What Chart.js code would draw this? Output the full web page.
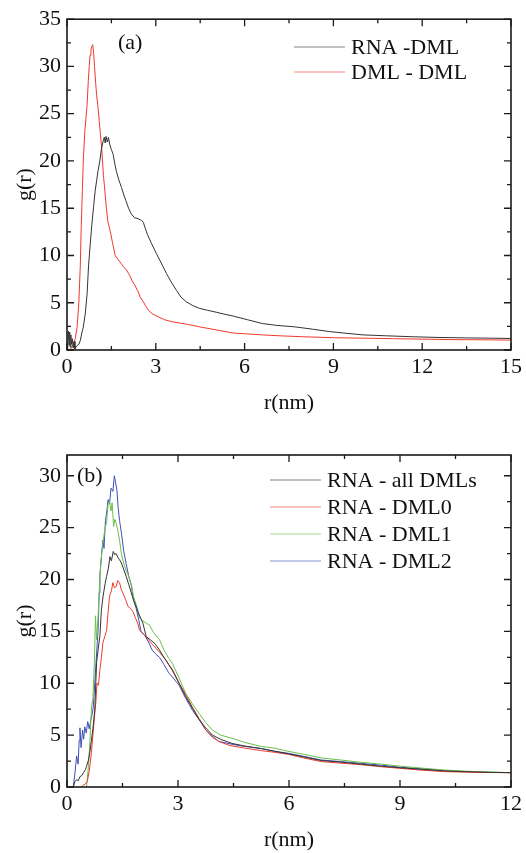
<!DOCTYPE html>
<html>
<head>
<meta charset="utf-8">
<script src="https://cdn.jsdelivr.net/npm/chart.js@4.4.1/dist/chart.umd.min.js"></script>
<style>
  html, body { margin: 0; padding: 0; background: #fff; }
  #wrap { position: relative; width: 526px; height: 853px; }
  #chartA { position: absolute; left: 0; top: 0; }
  #chartB { position: absolute; left: 0; top: 420px; }
</style>
</head>
<body>
<div id="wrap">
  <canvas id="chartA" width="526" height="420"></canvas>
  <canvas id="chartB" width="526" height="433"></canvas>
</div>
<script>
// ---- panel (a) ----
const labelsA = ['RNA -DML', 'DML - DML'];
const xTicksA = [0, 3, 6, 9, 12, 15];
const xMinorA = [1.5, 4.5, 7.5, 10.5, 13.5];
const yTicksA = [0, 5, 10, 15, 20, 25, 30, 35];
const yMinorA = [2.5, 7.5, 12.5, 17.5, 22.5, 27.5, 32.5];

const rnaDmlR = [0.02, 0.05, 0.07, 0.09, 0.11, 0.13, 0.15, 0.18, 0.21, 0.24, 0.27, 0.30, 0.35, 0.40, 0.45,
  0.50, 0.55, 0.62, 0.68, 0.73, 0.78, 0.84, 0.90, 0.95, 1.00, 1.05, 1.11, 1.16, 1.22, 1.26, 1.29, 1.32,
  1.36, 1.40, 1.44, 1.50, 1.56, 1.62, 1.67, 1.75, 1.84, 1.92, 1.99, 2.08, 2.17, 2.28, 2.40, 2.52, 2.58,
  2.63, 2.72, 2.85, 3.02, 3.20, 3.36, 3.52, 3.70, 3.85, 4.03, 4.25, 4.48, 4.75, 5.04, 5.3, 5.6, 6.1,
  6.6, 7.1, 7.7, 8.3, 8.87, 9.4, 10.0, 10.8, 11.7, 12.5, 13.5, 14.3, 15.0];
const rnaDmlG = [0, 2.0, 0.5, 1.9, 0.3, 1.6, 0.6, 1.2, 0.2, 0.9, 0.1, 0.3, 0.5, 0.6, 1.0,
  1.8, 2.4, 3.9, 6.0, 9.0, 11.0, 13.3, 15.2, 16.8, 17.9, 19.0, 20.0, 21.2, 22.1, 22.5, 21.9, 22.6,
  22.0, 22.5, 21.8, 21.2, 20.7, 19.6, 18.9, 18.0, 17.2, 16.4, 15.8, 15.0, 14.4, 14.0, 13.9, 13.7, 13.5,
  13.0, 12.2, 11.3, 10.2, 9.1, 8.1, 7.2, 6.3, 5.6, 5.1, 4.7, 4.4, 4.2, 4.0, 3.8, 3.6, 3.2,
  2.8, 2.6, 2.45, 2.2, 1.95, 1.78, 1.6, 1.5, 1.4, 1.33, 1.28, 1.25, 1.22];

const dmlDmlR = [0.10, 0.20, 0.28, 0.34, 0.40, 0.45, 0.48, 0.52, 0.55, 0.60, 0.64, 0.68, 0.72, 0.75, 0.78,
  0.81, 0.84, 0.87, 0.90, 0.93, 0.97, 1.00, 1.05, 1.09, 1.13, 1.17, 1.23, 1.28, 1.33, 1.38,
  1.46, 1.54, 1.63, 1.72, 1.82, 1.91, 2.00, 2.10, 2.19, 2.30, 2.40, 2.47, 2.56, 2.65, 2.75,
  2.90, 3.09, 3.30, 3.54, 3.80, 4.10, 4.48, 5.0, 5.6, 6.1, 6.6, 7.2, 8.0, 9.0, 10.0,
  11.0, 12.0, 13.0, 14.0, 15.0];
const dmlDmlG = [0, 0.5, 1.2, 2.4, 5, 9, 13, 17, 20, 23, 24.5, 26, 28.5, 30, 31.2,
  31.8, 32.1, 32.3, 31.4, 30, 28.2, 27, 25.6, 24.2, 22.8, 21.4, 18.5, 16.8, 15, 13.6,
  12.6, 11.3, 10, 9.6, 9.2, 8.8, 8.5, 8.0, 7.4, 6.8, 6.2, 5.6, 5.2, 4.7, 4.2,
  3.8, 3.5, 3.2, 3.0, 2.85, 2.7, 2.45, 2.15, 1.8, 1.7, 1.6, 1.5, 1.4, 1.3, 1.25,
  1.2, 1.15, 1.1, 1.08, 1.05];

// ---- panel (b) ----
const labelsB = ['RNA - all DMLs', 'RNA - DML0', 'RNA - DML1', 'RNA - DML2'];
const xTicksB = [0, 3, 6, 9, 12];
const xMinorB = [1.5, 4.5, 7.5, 10.5];
const yTicksB = [0, 5, 10, 15, 20, 25, 30];
const yMinorB = [2.5, 7.5, 12.5, 17.5, 22.5, 27.5];

const allR = [0.17, 0.21, 0.26, 0.30, 0.35, 0.40, 0.45, 0.50, 0.53, 0.58, 0.62, 0.66, 0.70, 0.75, 0.80,
  0.84, 0.89, 0.93, 0.98, 1.03, 1.07, 1.12, 1.16, 1.20, 1.25, 1.29, 1.33, 1.38, 1.42, 1.47,
  1.53, 1.60, 1.67, 1.74, 1.80, 1.87, 1.95, 2.05, 2.14, 2.25, 2.38, 2.50, 2.62, 2.75, 2.85,
  3.03, 3.21, 3.39, 3.57, 3.75, 3.93, 4.15, 4.46, 4.8, 5.26, 5.6, 5.98, 6.4, 6.87, 7.4,
  7.95, 8.5, 9.02, 9.6, 10.2, 10.8, 11.4, 12.0];
const allG = [0, 0.5, 0.7, 0.6, 1.0, 1.1, 1.4, 1.7, 2.0, 2.6, 3.4, 4.5, 5.6, 7.4, 12,
  13.2, 14.6, 17.1, 18.5, 19.6, 20.3, 21.1, 22.2, 21.8, 22.7, 22.4, 22.5, 22.1, 21.9, 21.6,
  21.0, 20.3, 19.5, 18.7, 18.0, 17.4, 16.6, 15.8, 14.5, 14.2, 13.8, 13.2, 12.5, 11.8, 11.3,
  10.0, 8.7, 7.6, 6.5, 5.7, 5.0, 4.6, 4.2, 3.95, 3.7, 3.45, 3.2, 2.9, 2.55, 2.4,
  2.2, 2.0, 1.85, 1.7, 1.55, 1.47, 1.41, 1.38];

const dml0R = [0.39, 0.45, 0.50, 0.55, 0.60, 0.66, 0.70, 0.75, 0.78, 0.81, 0.85, 0.89, 0.93, 0.97, 1.02,
  1.07, 1.11, 1.15, 1.20, 1.24, 1.28, 1.33, 1.37, 1.42, 1.47, 1.51, 1.58, 1.65, 1.72, 1.78,
  1.85, 1.91, 1.96, 2.05, 2.15, 2.32, 2.50, 2.68, 2.85, 3.03, 3.21, 3.39, 3.57, 3.75, 3.93,
  4.10, 4.4, 4.8, 5.26, 5.6, 5.98, 6.4, 6.87, 7.4, 7.95, 8.5, 9.0, 9.6, 10.2, 10.8, 11.4, 12.0];
const dml0G = [0, 0.2, 0.3, 0.6, 1.5, 3.3, 5.0, 7.1, 8.2, 10.0, 9.8, 11.3, 12.5, 13.9, 14.5,
  15.1, 16.8, 18.4, 18.9, 19.7, 19.2, 19.3, 19.9, 19.7, 19.0, 18.7, 18.1, 17.4, 17.2, 16.9,
  16.3, 15.8, 15.1, 14.8, 14.4, 13.7, 13.0, 12.2, 11.2, 10.0, 8.9, 7.7, 6.6, 5.5, 4.8,
  4.4, 4.0, 3.75, 3.5, 3.35, 3.15, 2.8, 2.45, 2.3, 2.15, 1.95, 1.8, 1.62, 1.48, 1.43, 1.40, 1.38];

const dml1R = [0.53, 0.58, 0.62, 0.66, 0.70, 0.74, 0.77, 0.80, 0.84, 0.88, 0.92, 0.97, 1.02, 1.07, 1.11,
  1.15, 1.19, 1.22, 1.26, 1.29, 1.33, 1.38, 1.42, 1.47, 1.53, 1.60, 1.67, 1.74, 1.80, 1.87,
  1.95, 2.05, 2.14, 2.23, 2.32, 2.40, 2.50, 2.62, 2.75, 2.85, 3.03, 3.21, 3.39, 3.57, 3.75,
  3.93, 4.15, 4.46, 4.8, 5.26, 5.6, 5.9, 6.4, 6.87, 7.4, 7.95, 8.5, 9.02, 9.6, 10.2,
  10.8, 11.4, 12.0];
const dml1G = [0, 2, 4.5, 7.6, 8.5, 12, 16.5, 14.2, 16.4, 19.5, 21.9, 23.5, 24.8, 25.5, 27.2,
  27.5, 26.6, 27.4, 25.1, 25.8, 25.4, 24.6, 23.8, 22.5, 21.6, 20.8, 20.3, 19.5, 18.3, 17.6,
  16.4, 16.0, 15.8, 15.6, 15.0, 14.6, 14.2, 13.2, 12.4, 11.9, 10.5, 9.0, 8.0, 7.1, 6.2,
  5.5, 5.0, 4.7, 4.3, 3.9, 3.75, 3.5, 3.15, 2.8, 2.6, 2.38, 2.2, 2.0, 1.82, 1.64,
  1.52, 1.45, 1.38];

const dml2R = [0.17, 0.22, 0.26, 0.30, 0.33, 0.35, 0.38, 0.42, 0.45, 0.48, 0.52, 0.56, 0.60, 0.64, 0.68,
  0.71, 0.75, 0.80, 0.84, 0.87, 0.89, 0.93, 0.97, 1.00, 1.04, 1.07, 1.11, 1.15, 1.19, 1.24,
  1.28, 1.31, 1.35, 1.38, 1.42, 1.47, 1.53, 1.60, 1.67, 1.74, 1.80, 1.87, 1.94,
  2.00, 2.10, 2.20, 2.30, 2.40, 2.50, 2.62, 2.75, 2.85, 3.03, 3.20, 3.39, 3.57, 3.75, 3.92,
  4.10, 4.35, 4.64, 4.95, 5.26, 5.6, 5.98, 6.4, 6.87, 7.4, 7.95, 8.5, 9.02, 9.6, 10.2,
  10.8, 11.4, 12.0];
const dml2G = [0, 1.5, 3.0, 2.2, 4.5, 5.7, 3.8, 5.5, 4.6, 5.8, 5.2, 6.3, 5.6, 6.4, 7.0,
  7.7, 10, 12.9, 15.1, 18.7, 20.5, 22.2, 23.8, 23.0, 25.7, 26.4, 27.7, 27.3, 28.8, 28.5,
  30.0, 29.4, 28.6, 27.0, 25.7, 24.5, 22.8, 21.5, 20.3, 19.4, 18.0, 17.2, 16.1,
  15.0, 14.6, 14.0, 13.2, 12.8, 12.5, 11.8, 11.0, 10.6, 9.8, 8.6, 7.4, 6.5, 5.5, 4.9,
  4.4, 4.2, 4.0, 3.85, 3.7, 3.45, 3.25, 2.95, 2.6, 2.45, 2.28, 2.1, 1.9, 1.75, 1.57,
  1.48, 1.42, 1.38];

const SERIF = '"Liberation Serif", "DejaVu Serif", serif';
const INK = '#111';

function pts(xs, ys) {
  return xs.map((x, i) => ({ x: x, y: ys[i] }));
}

function series(label, xs, ys, color) {
  return {
    label: label,
    data: pts(xs, ys),
    borderColor: color,
    borderWidth: 1,
    pointRadius: 0,
    tension: 0,
    fill: false
  };
}

// box around the plot with inward ticks on all four sides
const framePlugin = {
  id: 'frame',
  afterDraw(chart, args, opts) {
    const { ctx, chartArea: a, scales: { x, y } } = chart;
    ctx.save();
    ctx.strokeStyle = '#1a1a1a';
    ctx.lineWidth = 1.6;
    ctx.strokeRect(a.left, a.top, a.right - a.left, a.bottom - a.top);
    ctx.lineWidth = 1.3;
    ctx.beginPath();
    const xt = (vals, len) => vals.forEach(v => {
      const px = x.getPixelForValue(v);
      ctx.moveTo(px, a.bottom); ctx.lineTo(px, a.bottom - len);
      ctx.moveTo(px, a.top); ctx.lineTo(px, a.top + len);
    });
    const yt = (vals, len) => vals.forEach(v => {
      const py = y.getPixelForValue(v);
      ctx.moveTo(a.left, py); ctx.lineTo(a.left + len, py);
      ctx.moveTo(a.right, py); ctx.lineTo(a.right - len, py);
    });
    xt(opts.xMajor, 7); xt(opts.xMinor, 4);
    yt(opts.yMajor, 7); yt(opts.yMinor, 4);
    ctx.stroke();

    // panel tag
    ctx.fillStyle = INK;
    ctx.font = '22px ' + SERIF;
    ctx.textBaseline = 'middle';
    ctx.textAlign = 'left';
    ctx.fillText(opts.tag, opts.tagX, opts.tagY);
    ctx.restore();
  }
};

// legend drawn inside the plot, upper right
const keyPlugin = {
  id: 'key',
  afterDraw(chart, args, opts) {
    const { ctx } = chart;
    ctx.save();
    ctx.font = '22px ' + SERIF;
    ctx.textBaseline = 'middle';
    ctx.textAlign = 'left';
    chart.data.datasets.forEach((ds, i) => {
      const yy = opts.top + i * opts.step;
      ctx.strokeStyle = ds.borderColor;
      ctx.globalAlpha = 0.6;
      ctx.lineWidth = 1.2;
      ctx.beginPath();
      ctx.moveTo(opts.x0, yy);
      ctx.lineTo(opts.x0 + opts.len, yy);
      ctx.stroke();
      ctx.globalAlpha = 1;
      ctx.fillStyle = INK;
      ctx.fillText(ds.label, opts.x0 + opts.len + 6, yy + 1);
    });
    ctx.restore();
  }
};

function makeChart(id, cfg) {
  return new Chart(document.getElementById(id), {
    type: 'line',
    data: { datasets: cfg.datasets },
    plugins: [framePlugin, keyPlugin],
    options: {
      responsive: false,
      animation: false,
      events: [],
      layout: { padding: { top: cfg.top, right: 12, left: 0, bottom: 0 } },
      plugins: {
        legend: { display: false },
        tooltip: { enabled: false },
        frame: cfg.frame,
        key: cfg.key
      },
      scales: {
        x: {
          type: 'linear',
          min: cfg.xMin, max: cfg.xMax,
          afterBuildTicks: s => { s.ticks = cfg.xTicks.map(v => ({ value: v })); },
          afterFit: s => { s.height = cfg.xHeight; },
          grid: { display: false, drawTicks: false },
          border: { display: false },
          ticks: { font: { family: SERIF, size: 22 }, color: INK, padding: 4, maxRotation: 0, autoSkip: false },
          title: { display: true, text: 'r(nm)', font: { family: SERIF, size: 22 }, color: INK,
                   padding: { top: 0, bottom: cfg.titlePad } }
        },
        y: {
          type: 'linear',
          min: cfg.yMin, max: cfg.yMax,
          afterBuildTicks: s => { s.ticks = cfg.yTicks.map(v => ({ value: v })); },
          afterFit: s => { s.width = 67; },
          grid: { display: false, drawTicks: false },
          border: { display: false },
          ticks: { font: { family: SERIF, size: 22 }, color: INK, padding: 6, autoSkip: false },
          title: { display: true, text: 'g(r)', font: { family: SERIF, size: 22 }, color: INK,
                   padding: { top: 12, bottom: 0 } }
        }
      }
    }
  });
}

makeChart('chartA', {
  datasets: [
    series(labelsA[0], rnaDmlR, rnaDmlG, '#333333'),
    series(labelsA[1], dmlDmlR, dmlDmlG, '#f0392b')
  ],
  top: 17, xHeight: 70, titlePad: 4,
  xMin: 0, xMax: 15, yMin: 0, yMax: 35,
  xTicks: xTicksA, yTicks: yTicksA,
  frame: { xMajor: xTicksA, xMinor: xMinorA, yMajor: yTicksA, yMinor: yMinorA, tag: '(a)', tagX: 118, tagY: 43 },
  key: { x0: 294, len: 51, top: 47, step: 25 }
});

makeChart('chartB', {
  datasets: [
    series(labelsB[0], allR, allG, '#333333'),
    series(labelsB[1], dml0R, dml0G, '#ef3b2c'),
    series(labelsB[2], dml1R, dml1G, '#6cbf4a'),
    series(labelsB[3], dml2R, dml2G, '#3f4fb8')
  ],
  top: 35, xHeight: 66, titlePad: 0,
  xMin: 0, xMax: 12, yMin: 0, yMax: 32,
  xTicks: xTicksB, yTicks: yTicksB,
  frame: { xMajor: xTicksB, xMinor: xMinorB, yMajor: yTicksB, yMinor: yMinorB, tag: '(b)', tagX: 77, tagY: 56 },
  key: { x0: 270, len: 51, top: 60, step: 27 }
});
</script>
</body>
</html>
